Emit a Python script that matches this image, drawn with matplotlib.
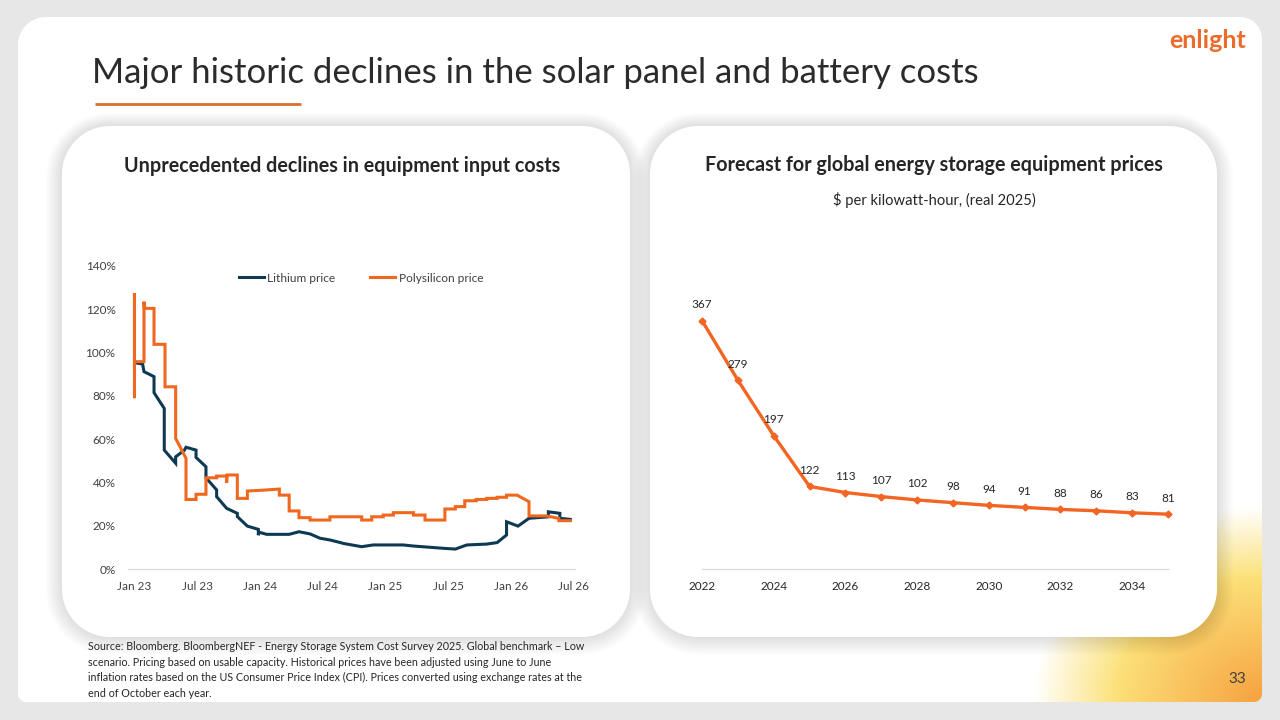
import numpy as np
import matplotlib
matplotlib.use("Agg")
import matplotlib.pyplot as plt
from matplotlib.path import Path
from matplotlib.patches import PathPatch

plt.rcParams['font.family'] = ['Lato', 'DejaVu Sans']

# ------------------------------------------------------------------ data
# Left chart: months since Jan 2023, value in % (index vs start)
poly_months = [0, 0, 0, 0.91, 0.91, 0.95, 1.87, 1.87, 2.92, 2.92, 3.94, 3.94, 4.93, 4.93,
               5.89, 5.89, 6.84, 6.84, 7.86, 7.86, 8.82, 8.82, 8.85, 9.84, 9.84, 10.8, 10.8,
               12.0, 13.86, 13.86, 14.8, 14.8, 15.74, 15.74, 16.8, 16.8, 18.7, 18.7,
               21.74, 21.74, 22.7, 22.7, 23.8, 23.8, 24.77, 24.77, 26.7, 26.7, 27.8, 27.8,
               29.7, 29.7, 30.7, 30.7, 31.6, 31.6, 32.7, 32.7, 33.7, 33.7, 34.7, 34.7,
               35.6, 35.6, 36.6, 37.75, 37.75, 39.4, 40.6, 40.6, 41.7]
poly_values = [79.5, 127.2, 95.7, 95.7, 123.4, 120.3, 120.3, 103.7, 103.7, 84.1, 84.1, 60.3, 51.1, 32.1,
               32.1, 34.5, 34.5, 42.1, 42.1, 42.9, 42.9, 39.8, 43.4, 43.4, 32.6, 32.6, 36.0,
               36.3, 36.9, 34.1, 34.1, 26.8, 26.8, 23.7, 23.7, 22.6, 22.6, 24.1,
               24.1, 22.6, 22.6, 24.1, 24.1, 24.9, 24.9, 26.0, 26.0, 24.9, 24.9, 22.6,
               22.6, 27.7, 27.7, 28.8, 28.8, 31.5, 31.5, 32.1, 32.1, 32.6, 32.6, 33.1,
               33.1, 34.1, 34.1, 31.1, 24.5, 24.5, 23.4, 22.3, 22.3]

lith_months = [0.05, 0.78, 0.91, 1.87, 1.87, 2.85, 2.85, 3.94, 3.94, 4.77, 4.93, 5.89, 5.89,
               6.84, 6.84, 7.86, 7.86, 8.82, 9.84, 9.84, 10.8, 11.85, 11.85, 11.9, 12.65,
               14.8, 15.74, 16.8, 17.75, 18.7, 19.7, 19.98, 21.74, 22.85, 25.7, 26.7, 29.7,
               30.7, 31.8, 33.7, 34.7, 35.6, 35.6, 36.7, 37.75, 39.6, 39.6, 40.7, 40.7, 41.7]
lith_values = [95.2, 94.6, 91.1, 88.8, 81.4, 74.1, 54.9, 48.8, 51.8, 54.8, 56.2, 54.9, 51.5,
               47.2, 42.1, 36.5, 33.4, 28.0, 25.7, 24.2, 19.8, 18.3, 15.6, 17.0, 16.0,
               16.0, 17.2, 16.2, 14.2, 13.4, 12.2, 11.8, 10.3, 11.1, 11.1, 10.6, 9.5,
               9.2, 11.1, 11.5, 12.2, 15.7, 21.8, 19.8, 23.4, 24.1, 26.4, 25.7, 23.4, 22.9]

left_tick_pos = [0, 6, 12, 18, 24, 30, 36, 42]
left_tick_labels = ["Jan 23", "Jul 23", "Jan 24", "Jul 24", "Jan 25", "Jul 25", "Jan 26", "Jul 26"]
left_y_ticks = [0, 20, 40, 60, 80, 100, 120, 140]

# Right chart
years = list(range(2022, 2036))
storage_prices = [367, 279, 197, 122, 113, 107, 102, 98, 94, 91, 88, 86, 83, 81]
right_tick_years = [2022, 2024, 2026, 2028, 2030, 2032, 2034]

# ------------------------------------------------------------------ colours
NAVY = '#0d3a52'
ORANGE = '#f0681e'
TXT = '#404040'
AXIS = '#d9d9d9'

W, H = 1280, 720
fig = plt.figure(figsize=(12.8, 7.2), dpi=100, facecolor='#e7e7e7')
bg = fig.add_axes([0, 0, 1, 1])
bg.set_xlim(0, W)
bg.set_ylim(H, 0)
bg.axis('off')
bg.set_facecolor('none')


def rrect_path(x0, y0, x1, y1, r):
    tl, tr, br, bl = r
    verts = []

    def arc(cx, cy, rad, a0, a1):
        for a in np.linspace(np.radians(a0), np.radians(a1), 20):
            verts.append((cx + rad * np.cos(a), cy + rad * np.sin(a)))

    verts.append((x0 + tl, y0))
    verts.append((x1 - tr, y0))
    arc(x1 - tr, y0 + tr, tr, 270, 360)
    verts.append((x1, y1 - br))
    arc(x1 - br, y1 - br, br, 0, 90)
    verts.append((x0 + bl, y1))
    arc(x0 + bl, y1 - bl, bl, 90, 180)
    verts.append((x0, y0 + tl))
    arc(x0 + tl, y0 + tl, tl, 180, 270)
    verts.append(verts[0])
    codes = [Path.MOVETO] + [Path.LINETO] * (len(verts) - 2) + [Path.CLOSEPOLY]
    return Path(verts, codes)


# slide card
card = PathPatch(rrect_path(18, 17, 1262, 702, (28, 22, 8, 8)), facecolor='white',
                 edgecolor='none', zorder=1)
bg.add_patch(card)

# warm glow in bottom-right corner
gx0, gx1, gy0, gy1 = 880, 1262, 420, 702
xs = np.linspace(gx0, gx1, 400)
ys = np.linspace(gy0, gy1, 300)
XX, YY = np.meshgrid(xs, ys)
d = np.sqrt(((XX - 1262) / 228.0) ** 2 + ((YY - 702) / 195.0) ** 2)
orange_c = np.array([246, 162, 64]) / 255.0
yellow_c = np.array([252, 226, 122]) / 255.0
t = np.clip(d / 0.66, 0, 1)[..., None]
rgb = orange_c * (1 - t) + yellow_c * t
alpha = np.clip((1.0 - d) / 0.36, 0, 1)
img = np.dstack([rgb, alpha])
im = bg.imshow(img, extent=(gx0, gx1, gy1, gy0), zorder=2, interpolation='bilinear')
im.set_clip_path(card)
bg.set_xlim(0, W)
bg.set_ylim(H, 0)
bg.set_aspect('auto')

# panels with soft shadows
for (px0, px1) in [(62, 630), (650, 1217)]:
    for i in range(10, 0, -1):
        e = i * 1.6
        sh = PathPatch(rrect_path(px0 - e, 126 - e * 0.8, px1 + e, 637 + e * 1.1,
                                  (48 + e,) * 4),
                       facecolor='black', edgecolor='none', alpha=0.012, zorder=3)
        bg.add_patch(sh)
    bg.add_patch(PathPatch(rrect_path(px0, 126, px1, 637, (48, 48, 48, 48)),
                           facecolor='white', edgecolor='none', zorder=4))

# title & underline
bg.text(92, 73, "Major historic declines in the solar panel and battery costs",
        fontsize=25, color='#2b2b2b', va='center', ha='left', zorder=5)
bg.plot([95, 301], [103.5, 103.5], color='#d8702e', lw=2, zorder=5, solid_capstyle='butt')

# logo
bg.text(1208, 40, "enlight", fontsize=18, fontweight='bold', color='#ec6b2b',
        ha='center', va='center', zorder=5)

# panel titles
bg.text(342, 166, "Unprecedented declines in equipment input costs", fontsize=14.2,
        fontweight='bold', color='#262626', ha='center', va='center', zorder=5)
bg.text(934, 165, "Forecast for global energy storage equipment prices", fontsize=14.2,
        fontweight='bold', color='#262626', ha='center', va='center', zorder=5)
bg.text(934, 200, "$ per kilowatt-hour, (real 2025)", fontsize=10.6, color='#262626',
        ha='center', va='center', zorder=5)

# source
source = ("Source: Bloomberg. BloombergNEF - Energy Storage System Cost Survey 2025. Global benchmark \u2013 Low\n"
          "scenario. Pricing based on usable capacity. Historical prices have been adjusted using June to June\n"
          "inflation rates based on the US Consumer Price Index (CPI). Prices converted using exchange rates at the\n"
          "end of October each year.")
bg.text(88, 641, source, fontsize=7.75, color='#262626', ha='left', va='top',
        linespacing=1.5, zorder=5)

# page number
bg.text(1237, 679, "33", fontsize=11, color='#404040', ha='center', va='center', zorder=5)


def px_axes(x0, x1, ytop, ybot):
    return fig.add_axes([x0 / W, 1 - ybot / H, (x1 - x0) / W, (ybot - ytop) / H])


# ------------------------------------------------------------------ left chart
axl = px_axes(128, 575, 265.7, 569)
axl.set_facecolor('none')
axl.plot(lith_months, lith_values, color=NAVY, lw=2.2, label='Lithium price',
         solid_joinstyle='miter')
axl.plot(poly_months, poly_values, color=ORANGE, lw=2.2, label='Polysilicon price',
         solid_joinstyle='miter')
axl.set_xlim(-0.62, 42.15)
axl.set_ylim(0, 140)
axl.set_xticks(left_tick_pos)
axl.set_xticklabels(left_tick_labels)
axl.set_yticks(left_y_ticks)
axl.set_yticklabels([f"{v}%" for v in left_y_ticks])
for s in ['top', 'right', 'left']:
    axl.spines[s].set_visible(False)
axl.spines['bottom'].set_color(AXIS)
axl.spines['bottom'].set_linewidth(0.9)
axl.tick_params(axis='both', length=0, labelsize=8.5, labelcolor=TXT)
axl.tick_params(axis='x', pad=9)
axl.tick_params(axis='y', pad=9)
leg = axl.legend(loc='center', bbox_to_anchor=(361 / W, 1 - 278 / H),
                 bbox_transform=fig.transFigure, ncol=2, frameon=False, fontsize=8.6,
                 handlelength=2.1, handletextpad=0.3, columnspacing=2.9)
for t_ in leg.get_texts():
    t_.set_color(TXT)

# ------------------------------------------------------------------ right chart
axr = px_axes(702, 1168, 264.4, 569)
axr.set_facecolor('none')
axr.plot(years, storage_prices, color='#f26522', lw=2.4, marker='D', markersize=3.5,
         clip_on=False)
for yv, pv in zip(years, storage_prices):
    axr.annotate(f"{pv}", (yv, pv), xytext=(0, 11.5), textcoords='offset points',
                 ha='center', va='center', fontsize=8.5, color='#262626')
axr.set_xlim(2022, 2035)
axr.set_ylim(0, 450)
axr.set_xticks(right_tick_years)
axr.set_xticklabels([str(y) for y in right_tick_years])
axr.set_yticks([])
for s in ['top', 'right', 'left']:
    axr.spines[s].set_visible(False)
axr.spines['bottom'].set_color(AXIS)
axr.spines['bottom'].set_linewidth(0.9)
axr.tick_params(axis='x', length=0, labelsize=8.5, labelcolor='#262626', pad=9)

fig.savefig('out.png', dpi=100, facecolor=fig.get_facecolor())
